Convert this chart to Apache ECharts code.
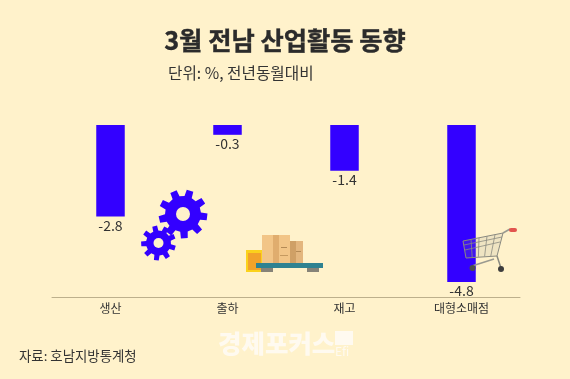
<!DOCTYPE html>
<html><head><meta charset="utf-8">
<style>html,body{margin:0;padding:0;background:#fff2cb}#c{width:570px;height:379px}</style>
<script src="https://cdn.jsdelivr.net/npm/echarts@6/dist/echarts.min.js"></script>
</head><body><div id="c"></div>
<script>
const categories = ['생산', '출하', '재고', '대형소매점'];
const values = [-2.8, -0.3, -1.4, -4.8];
const titleText = '3월 전남 산업활동 동향';
const subtitleText = '단위: %, 전년동월대비';
const sourceText = '자료: 호남지방통계청';
const brandText = '경제포커스';
const FONT = '"Noto Sans CJK KR","Noto Sans",sans-serif';

function gear(cx, cy, rOut, rIn, hole, teeth, rot, color) {
  const pts = [];
  const step = Math.PI * 2 / teeth;
  for (let i = 0; i < teeth; i++) {
    const a = rot + i * step;
    [[-0.3, rIn], [-0.2, rOut], [0.2, rOut], [0.3, rIn]].forEach(p => {
      pts.push([cx + p[1] * Math.cos(a + p[0] * step), cy + p[1] * Math.sin(a + p[0] * step)]);
    });
  }
  return [
    { type: 'polygon', z: 10, shape: { points: pts }, style: { fill: color } },
    { type: 'circle', z: 11, shape: { cx, cy, r: hole }, style: { fill: '#fff2cb' } }
  ];
}
function rect(x, y, w, h, fill) { return { type: 'rect', z: 10, shape: { x, y, width: w, height: h }, style: { fill } }; }
function line(x1, y1, x2, y2, stroke, w) { return { type: 'line', z: 10, shape: { x1, y1, x2, y2 }, style: { stroke, lineWidth: w } }; }

const crate = [rect(246, 250, 17, 22, '#fbd21c'), rect(248, 253, 13, 17, '#f2a32a')];
const boxes = [
  rect(290, 241, 13, 22, '#e3b67e'), rect(290, 241, 6, 22, '#cfa066'),
  rect(262, 235, 28, 28, '#f2c587'), rect(273, 235, 6, 28, '#e0ad6e'),
  rect(281, 247, 6, 1, '#b48a55'), rect(280, 255, 8, 1, '#c69a60'), rect(296, 251, 5, 1, '#b48a55')
];
const pallet = [rect(256, 263, 67, 5, '#2f8291'), rect(261, 268, 12, 4, '#868378'), rect(307, 268, 12, 4, '#868378')];

const cart = [
  { type: 'polygon', z: 10, shape: { points: [[463, 241], [503, 233], [497, 256], [466, 258]] }, style: { fill: 'rgba(150,150,150,0.15)', stroke: '#8a8a80', lineWidth: 1 } }
];
[1, 2, 3, 4].forEach(i => cart.push(line(463 + i * 8, 241 - i * 1.6, 466 + i * 6.2, 257.6 - i * 0.4, '#8a8a80', 0.8)));
[246, 251].forEach((y, i) => cart.push(line(464 + i, y - 1, 502 - i * 2, y - 9, '#8a8a80', 0.8)));
cart.push(
  line(503, 233, 510, 229, '#9a9a90', 1.5),
  { type: 'rect', z: 10, shape: { x: 509, y: 228, width: 8, height: 4, r: 2 }, style: { fill: '#e2544e' } },
  line(497, 256, 501, 268, '#8a8a80', 1.5),
  line(472, 266, 494, 259, '#9a9a90', 1.5),
  { type: 'circle', z: 11, shape: { cx: 472.5, cy: 268, r: 3 }, style: { fill: '#4d4d4d' } },
  { type: 'circle', z: 11, shape: { cx: 501, cy: 269, r: 3 }, style: { fill: '#3d3d3d' } }
);

const chart = echarts.init(document.getElementById('c'), null, { renderer: 'canvas' });
chart.setOption({
  animation: false,
  backgroundColor: '#fff2cb',
  title: {
    text: titleText, left: 280, top: 23, textAlign: 'center',
    textStyle: { fontFamily: FONT, fontSize: 25.3, fontWeight: 700, color: '#2b2b2b', textBorderColor: '#2b2b2b', textBorderWidth: 0.4 }
  },
  grid: { left: 52, right: 50, top: 125, height: 172 },
  xAxis: {
    type: 'category', data: categories, position: 'bottom',
    axisLine: { onZero: false, lineStyle: { color: '#bdb08c', width: 1 } },
    axisTick: { show: false },
    axisLabel: { fontFamily: FONT, fontSize: 12, color: '#333', margin: 5 }
  },
  yAxis: { type: 'value', min: -5.26, max: 0, show: false, splitLine: { show: false } },
  series: [{
    type: 'bar', data: values, barWidth: 28.5, z: 2,
    itemStyle: { color: '#3300ff' },
    label: { show: true, position: 'bottom', distance: 2, fontFamily: FONT, fontSize: 14, color: '#333' }
  }],
  graphic: [
    { type: 'text', x: 168, y: 65, z: 10, style: { text: subtitleText, fontFamily: FONT, fontSize: 15.7, fill: '#333' } },
    { type: 'text', x: 19, y: 349, z: 10, style: { text: sourceText, fontFamily: FONT, fontSize: 13.4, fill: '#333' } },
    { type: 'text', x: 218, y: 331, z: 10, style: { text: brandText, fontFamily: FONT, fontSize: 25.5, fontWeight: 900, fill: '#fffaf0' } },
    rect(335, 331, 18, 14, '#fffaf0'),
    { type: 'text', x: 335, y: 345, z: 10, style: { text: 'Efi', fontFamily: FONT, fontSize: 12, fill: '#fffaf0' } },
    ...gear(183, 214, 24.5, 18, 7, 9, 0.12, '#3300ff'),
    ...gear(158.5, 243, 17.5, 12.5, 5, 9, 0.3, '#3300ff'),
    ...crate, ...boxes, ...pallet, ...cart
  ]
});
</script></body></html>
